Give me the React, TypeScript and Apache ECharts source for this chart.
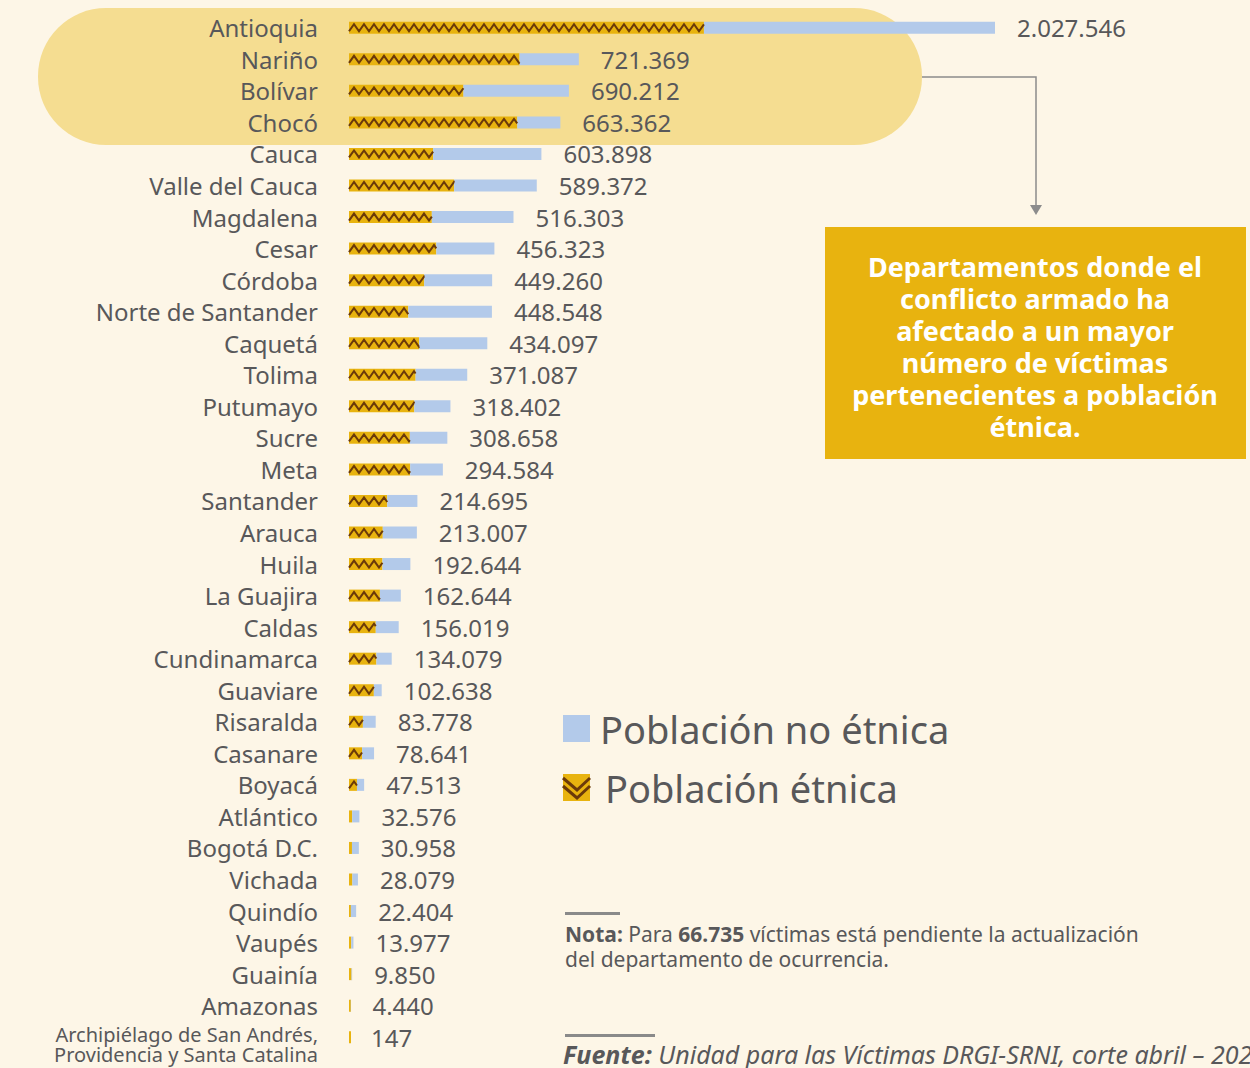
import React, { useEffect, useRef } from 'react';
import * as echarts from 'echarts';

const categories = [
  'Antioquia', 'Nariño', 'Bolívar', 'Chocó', 'Cauca', 'Valle del Cauca', 'Magdalena', 'Cesar',
  'Córdoba', 'Norte de Santander', 'Caquetá', 'Tolima', 'Putumayo', 'Sucre', 'Meta', 'Santander',
  'Arauca', 'Huila', 'La Guajira', 'Caldas', 'Cundinamarca', 'Guaviare', 'Risaralda', 'Casanare',
  'Boyacá', 'Atlántico', 'Bogotá D.C.', 'Vichada', 'Quindío', 'Vaupés', 'Guainía', 'Amazonas',
  'Archipiélago de San Andrés,\nProvidencia y Santa Catalina',
];
const totals = [
  2027546, 721369, 690212, 663362, 603898, 589372, 516303, 456323, 449260, 448548, 434097, 371087,
  318402, 308658, 294584, 214695, 213007, 192644, 162644, 156019, 134079, 102638, 83778, 78641,
  47513, 32576, 30958, 28079, 22404, 13977, 9850, 4440, 147,
];
const ethnic = [
  1114000, 535000, 359000, 528000, 264000, 330000, 260000, 274000, 236000, 186000, 220000, 209000,
  205000, 191000, 192000, 120000, 106000, 105000, 97000, 84000, 86000, 78000, 43600, 41000,
  25000, 10000, 9300, 10500, 5600, 7000, 8000, 3500, 140,
];

const FONT = 'Noto Sans';
const TEXT = '#58585a';
const BLUE = '#B3CAEA';
const YELLOW = '#E8B30F';
const BROWN = '#6B3A0A';

const fmt = (n: number) => String(n).replace(/\B(?=(\d{3})+(?!\d))/g, '.');

export default function App() {
  const ref = useRef<HTMLDivElement>(null);
  useEffect(() => {
    if (!ref.current) return;
    const chart = echarts.init(ref.current, undefined, { renderer: 'svg' });
    const nonEthnic = totals.map((t, i) => Math.max(t - ethnic[i], 0));
    const option: any = {
      animation: false,
      backgroundColor: '#FDF6E7',
      textStyle: { fontFamily: FONT },
      grid: { left: 349, width: 646, top: 12, height: 1041 },
      xAxis: { type: 'value', min: 0, max: 2027546, show: false },
      yAxis: {
        type: 'category',
        inverse: true,
        data: categories,
        axisLine: { show: false },
        axisTick: { show: false },
        axisLabel: {
          interval: 0,
          margin: 31,
          fontSize: 24,
          color: TEXT,
          fontFamily: FONT,
          formatter: (v: string) => (v.includes('\n') ? `{s|${v}}` : v),
          rich: {
            s: { fontSize: 20, lineHeight: 20, color: TEXT, fontFamily: FONT, align: 'right', padding: [14, 0, 0, 0] },
          },
        },
      },
      series: [
        {
          name: 'Población étnica',
          type: 'bar',
          stack: 'total',
          barWidth: 12,
          barMinHeight: 2,
          data: ethnic,
          itemStyle: { color: YELLOW },
        },
        {
          name: 'Población no étnica',
          type: 'bar',
          stack: 'total',
          barWidth: 12,
          data: nonEthnic,
          itemStyle: { color: BLUE },
          label: {
            show: true,
            position: 'right',
            distance: 22,
            fontSize: 24,
            color: TEXT,
            fontFamily: FONT,
            formatter: (p: any) => fmt(totals[p.dataIndex]),
          },
        },
        {
          type: 'custom',
          z: 5,
          silent: true,
          data: ethnic.map((v, i) => [v, i]),
          encode: { x: 0, y: 1 },
          renderItem: (params: any, api: any) => {
            const v = api.value(0);
            const c = api.value(1);
            const s = api.coord([0, c]);
            const e = api.coord([v, c]);
            const w = e[0] - s[0];
            if (w < 6) return null;
            const half = 5;
            const amp = 3.5;
            const y = s[1];
            const pts: number[][] = [];
            let x = s[0];
            let up = false;
            pts.push([x, y + amp]);
            while (x + half < e[0]) {
              x += half;
              up = !up;
              pts.push([x, up ? y - amp : y + amp]);
            }
            const rem = e[0] - x;
            const prevY = up ? y - amp : y + amp;
            const nextY = up ? y + amp : y - amp;
            pts.push([e[0], prevY + ((nextY - prevY) * rem) / half]);
            return {
              type: 'polyline',
              shape: { points: pts },
              style: { stroke: BROWN, lineWidth: 2, fill: null },
            };
          },
        },
      ],
      graphic: [
        {
          type: 'rect',
          z: -1,
          shape: { x: 38, y: 8, width: 884, height: 137, r: 68 },
          style: { fill: '#F5DD91' },
        },
        {
          type: 'polyline',
          shape: { points: [[922, 77], [1036, 77], [1036, 207]] },
          style: { stroke: '#8c8c8c', lineWidth: 1.5, fill: null },
        },
        {
          type: 'polygon',
          shape: { points: [[1030, 205], [1042, 205], [1036, 215]] },
          style: { fill: '#8c8c8c' },
        },
        {
          type: 'rect',
          shape: { x: 825, y: 227, width: 421, height: 232 },
          style: { fill: YELLOW },
        },
        {
          type: 'text',
          x: 1035,
          y: 346,
          style: {
            text: 'Departamentos donde el\nconflicto armado ha\nafectado a un mayor\nnúmero de víctimas\npertenecientes a población\nétnica.',
            fill: '#ffffff',
            fontSize: 27,
            fontWeight: 'bold',
            fontFamily: FONT,
            lineHeight: 32,
            align: 'center',
            verticalAlign: 'middle',
          },
        },
        {
          type: 'rect',
          shape: { x: 563, y: 715, width: 27, height: 27 },
          style: { fill: BLUE },
        },
        {
          type: 'text',
          x: 600,
          y: 729,
          style: { text: 'Población no étnica', fill: TEXT, fontSize: 38, fontFamily: FONT, verticalAlign: 'middle' },
        },
        {
          type: 'rect',
          shape: { x: 563, y: 774, width: 27, height: 27 },
          style: { fill: YELLOW },
        },
        {
          type: 'polyline',
          shape: { points: [[563, 778], [577, 790], [590, 778]] },
          style: { stroke: BROWN, lineWidth: 3, fill: null },
        },
        {
          type: 'polyline',
          shape: { points: [[563, 786], [577, 798], [590, 786]] },
          style: { stroke: BROWN, lineWidth: 3, fill: null },
        },
        {
          type: 'text',
          x: 605,
          y: 788,
          style: { text: 'Población étnica', fill: TEXT, fontSize: 38, fontFamily: FONT, verticalAlign: 'middle' },
        },
        {
          type: 'rect',
          shape: { x: 565, y: 912, width: 55, height: 3 },
          style: { fill: '#8a8a8a' },
        },
        {
          type: 'text',
          x: 565,
          y: 934,
          style: {
            text: '{b|Nota:} Para {b|66.735} víctimas está pendiente la actualización',
            fill: TEXT,
            fontSize: 21,
            lineHeight: 24,
            fontFamily: FONT,
            verticalAlign: 'middle',
            rich: { b: { fontWeight: 'bold', fontSize: 21, lineHeight: 24, fill: TEXT, fontFamily: FONT } },
          },
        },
        {
          type: 'text',
          x: 565,
          y: 959,
          style: {
            text: 'del departamento de ocurrencia.',
            fill: TEXT,
            fontSize: 21,
            lineHeight: 24,
            fontFamily: FONT,
            verticalAlign: 'middle',
          },
        },
        {
          type: 'rect',
          shape: { x: 565, y: 1034, width: 90, height: 3 },
          style: { fill: '#8a8a8a' },
        },
        {
          type: 'text',
          x: 563,
          y: 1054,
          style: {
            text: '{b|Fuente:} Unidad para las Víctimas DRGI-SRNI, corte abril – 2023',
            fill: TEXT,
            fontSize: 25,
            fontStyle: 'italic',
            fontFamily: FONT,
            verticalAlign: 'middle',
            rich: { b: { fontWeight: 'bold', fontStyle: 'italic', fontSize: 25, fill: TEXT, fontFamily: FONT } },
          },
        },
      ],
    };
    chart.setOption(option);
    return () => chart.dispose();
  }, []);
  return <div ref={ref} style={{ position: 'fixed', left: 0, top: 0, width: 1250, height: 1068 }} />;
}
